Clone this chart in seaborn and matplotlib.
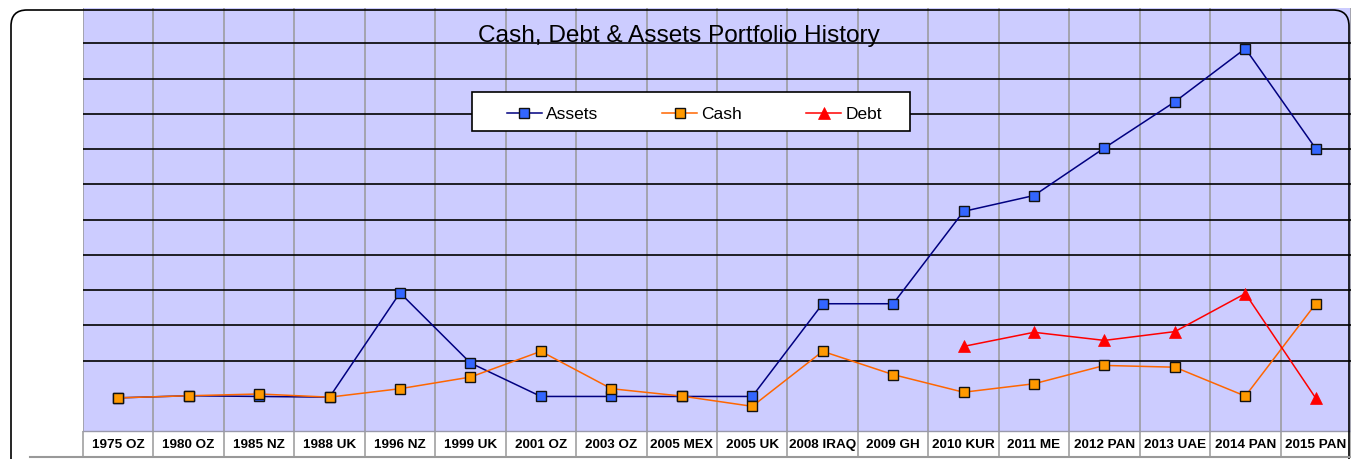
import matplotlib
matplotlib.use("Agg")
import matplotlib.pyplot as plt
import matplotlib.patches as mpatches
import matplotlib.lines as mlines
import matplotlib.transforms as mtransforms
import seaborn as sns
import pandas as pd
import numpy as np

# ---- data (arbitrary units, gridline = 1 unit) ----
trips = ["1975 OZ", "1980 OZ", "1985 NZ", "1988 UK", "1996 NZ", "1999 UK",
         "2001 OZ", "2003 OZ", "2005 MEX", "2005 UK", "2008 IRAQ", "2009 GH",
         "2010 KUR", "2011 ME", "2012 PAN", "2013 UAE", "2014 PAN", "2015 PAN"]
assets = [0.94, 1.00, 0.98, 0.96, 3.92, 1.93, 0.98, 0.98, 0.98, 0.98, 3.61, 3.61,
          6.23, 6.68, 8.03, 9.34, 10.85, 8.01]
cash = [0.94, 1.00, 1.05, 0.96, 1.20, 1.53, 2.26, 1.20, 0.99, 0.70, 2.26, 1.60,
        1.10, 1.34, 1.86, 1.81, 0.99, 3.61]
debt = [np.nan] * 12 + [2.40, 2.80, 2.57, 2.82, 3.90, 0.93]

df = pd.DataFrame({"pos": np.arange(len(trips)), "trip": trips,
                   "Assets": assets, "Cash": cash, "Debt": debt})

plt.rcParams["font.family"] = ["Liberation Sans", "DejaVu Sans"]

W, H = 1351, 459
fig = plt.figure(figsize=(W / 100, H / 100), dpi=100)
fig.patch.set_facecolor("white")

# plot area in pixel terms
left, right, top, bottom = 83, 1351, 8, 431
ax = fig.add_axes([left / W, (H - bottom) / H, (right - left) / W, (bottom - top) / H])
ax.set_facecolor("#CCCCFF")

sns.lineplot(data=df, x="pos", y="Assets", ax=ax, color="#000080", lw=1.1,
             marker="s", markersize=7.8, markerfacecolor="#3366FF",
             markeredgecolor="#111111", markeredgewidth=1.0, label="Assets", zorder=5)
sns.lineplot(data=df, x="pos", y="Cash", ax=ax, color="#FF6600", lw=1.1,
             marker="s", markersize=7.8, markerfacecolor="#FF9900",
             markeredgecolor="#111111", markeredgewidth=1.0, label="Cash", zorder=6)
sns.lineplot(data=df.dropna(), x="pos", y="Debt", ax=ax, color="#FF0000", lw=1.1,
             marker="^", markersize=8.5, markerfacecolor="#FF0000",
             markeredgecolor="#FF0000", markeredgewidth=0.5, label="Debt", zorder=7)

ax.set_xlim(-0.5, len(trips) - 0.5)
ax.set_ylim(0, 12)
ax.set_xlabel("")
ax.set_ylabel("")

# horizontal black gridlines
ax.set_yticks(np.arange(2, 12))
ax.tick_params(axis="y", left=False, labelleft=False)
ax.grid(which="major", axis="y", color="black", lw=1.2)

# category labels and gray separators (minor ticks extend into label row)
ax.set_xticks(df["pos"])
ax.set_xticklabels(trips, fontsize=9.7, fontweight="bold")
ax.set_xticks(np.arange(-0.5, len(trips)), minor=True)
ax.tick_params(axis="x", which="major", length=0, pad=6)
ax.tick_params(axis="x", which="minor", length=19, width=1.1, color="#999999",
               direction="out")
ax.grid(which="minor", axis="x", color="#999999", lw=1.1)
ax.set_axisbelow(True)

for s in ["top", "right", "left"]:
    ax.spines[s].set_visible(False)
ax.spines["bottom"].set_color("#9999AA")
ax.spines["bottom"].set_linewidth(1.0)

# legend: white box drawn separately, entries spread across the inner span
def ax_frac(x, y):
    return (x - left) / (right - left), (bottom - y) / (bottom - top)

bx, by = ax_frac(472, 131)
box = mpatches.Rectangle((bx, by), 438 / (right - left), 39 / (bottom - top),
                         transform=ax.transAxes, facecolor="white", edgecolor="black",
                         lw=1.2, zorder=9)
ax.add_patch(box)
lx, ly = ax_frac(507, 134)
leg = ax.legend(loc="center", bbox_to_anchor=(lx, ly, 375 / (right - left), 40 / (bottom - top)),
                mode="expand", ncol=3, fontsize=12.5, frameon=False, borderaxespad=0,
                borderpad=0, handlelength=2.0, handletextpad=0.25)
leg.set_zorder(10)

fig.text(679 / W, 1 - 36 / H, "Cash, Debt & Assets Portfolio History",
         ha="center", va="center", fontsize=17.6, color="black")

# chart-area frame with rounded corners and the line under the label row
ident = mtransforms.IdentityTransform()
frame = mpatches.FancyBboxPatch((11, -40), 1338, H - 10 + 40,
                                boxstyle="round,pad=0,rounding_size=16",
                                transform=ident, fill=False, edgecolor="black",
                                lw=1.2, zorder=20)
fig.add_artist(frame)
fig.add_artist(mlines.Line2D([30, W], [H - 457, H - 457], transform=ident,
                             color="#999999", lw=1.5, zorder=20))

fig.savefig("out.png", dpi=100)
